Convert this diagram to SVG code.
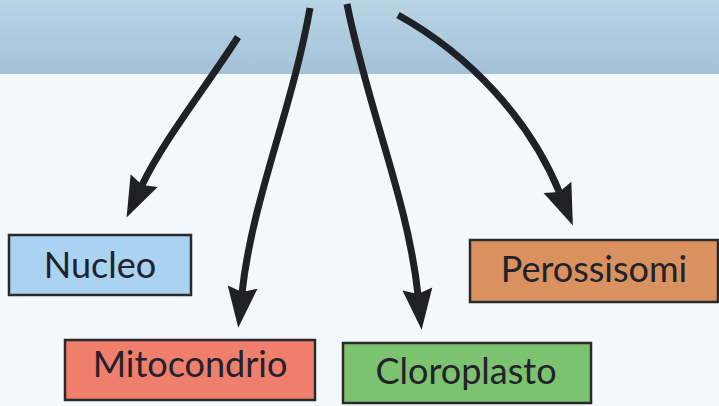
<svg xmlns="http://www.w3.org/2000/svg" width="719" height="406" viewBox="0 0 719 406">
<defs>
<linearGradient id="band" x1="0" y1="0" x2="0" y2="1">
<stop offset="0" stop-color="#b9d5e6"/>
<stop offset="1" stop-color="#a4c1d7"/>
</linearGradient>
<marker id="ah" markerUnits="userSpaceOnUse" markerWidth="60" markerHeight="40" viewBox="-2 -20 60 40" refX="6" refY="0" orient="auto">
<path d="M0,-15 L41,0 L0,15 L5,0 Z" fill="#1e2226"/>
</marker>
<style>
.box{stroke:#2a2a2a;stroke-width:2.5}
.lbl{font-family:"Lato","Liberation Sans",sans-serif;font-size:36px;fill:#23222c;text-anchor:middle}
.arr{fill:none;stroke:#1e2226;stroke-width:7;stroke-linecap:butt}
</style>
</defs>
<rect x="0" y="0" width="719" height="406" fill="#f2f8fb"/>
<rect x="0" y="0" width="719" height="74" fill="url(#band)"/>
<g id="connectors">
<path class="arr" d="M238,37 C206,87 163,141 141.6,186" marker-end="url(#ah)"/>
<path class="arr" d="M310,8 C292,110 252,200 242,293" marker-end="url(#ah)"/>
<path class="arr" d="M347,4 C368,110 408,200 418,295" marker-end="url(#ah)"/>
<path class="arr" d="M398,15 C470,55 530,120 559.7,193" marker-end="url(#ah)"/>
</g>
<g id="nucleo">
<rect class="box" x="9" y="235" width="182" height="60" fill="#a9d3f0"/>
<text class="lbl" x="100" y="278">Nucleo</text>
</g>
<g id="mitocondrio">
<rect class="box" x="65" y="340" width="250" height="60" fill="#f07e6c"/>
<text class="lbl" x="190" y="377">Mitocondrio</text>
</g>
<g id="cloroplasto">
<rect class="box" x="343" y="343" width="248" height="60" fill="#7cc36f"/>
<text class="lbl" x="466" y="384">Cloroplasto</text>
</g>
<g id="perossisomi">
<rect class="box" x="470" y="240" width="248" height="62" fill="#d9925f"/>
<text class="lbl" x="594" y="282">Perossisomi</text>
</g>
</svg>
